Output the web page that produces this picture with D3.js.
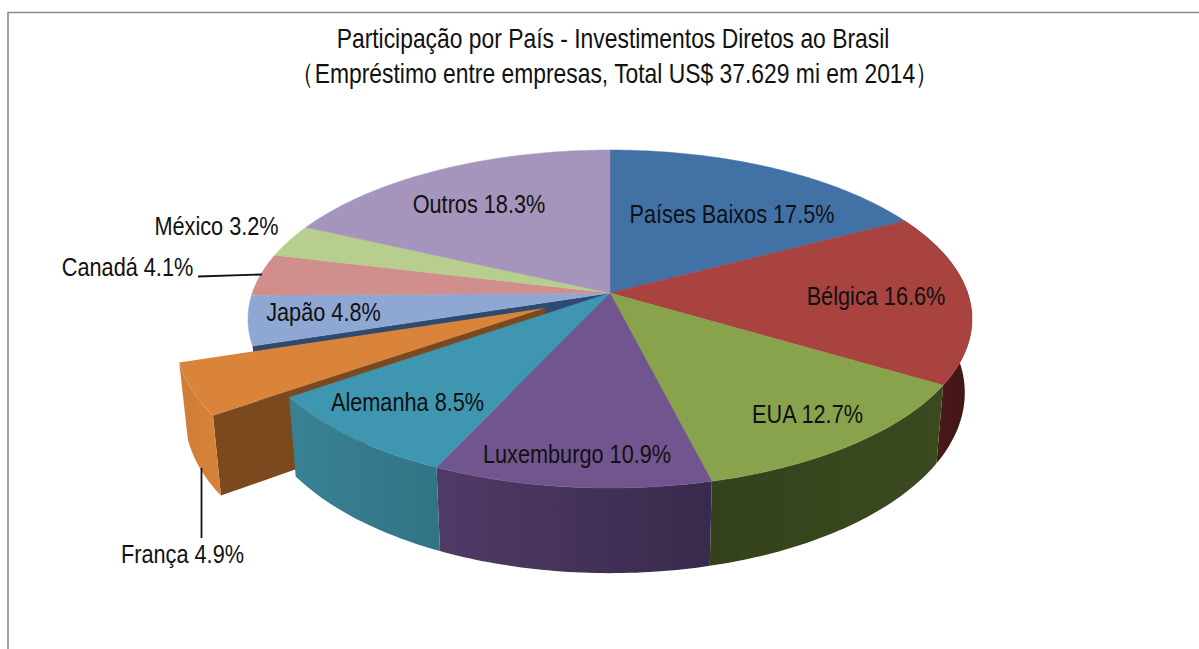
<!DOCTYPE html>
<html>
<head>
<meta charset="utf-8">
<style>
  html, body { margin: 0; padding: 0; background: #fff; overflow: hidden; }
  text { font-family: "Liberation Sans", Arial, sans-serif; fill: #111; }
</style>
</head>
<body>
<div id="svg-container"></div>
<script src="https://cdn.jsdelivr.net/npm/d3@7"></script>
<script>
// Data
const countries = ["Países Baixos", "Bélgica", "EUA", "Luxemburgo", "Alemanha",
                   "França", "Japão", "Canadá", "México", "Outros"];
const shares = [17.5, 16.6, 12.7, 10.9, 8.5, 4.9, 4.8, 4.1, 3.2, 18.3];
const titleLines = ["Participação por País - Investimentos Diretos ao Brasil",
                    "（Empréstimo entre empresas, Total US$ 37.629 mi em 2014）"];

// Colours of the top faces and of the outer walls (left, right)
const topColors = ["#4271a6", "#a8433f", "#89a34c", "#71558e", "#3e96b0",
                   "#d9843a", "#8fa7d3", "#d08e8c", "#b7ce8f", "#a595bc"];
const wallColors = [null, ["#501c1c", "#431515"], ["#34421c", "#3c4a20"],
                    ["#503b66", "#382a4c"], ["#3a8194", "#317486"],
                    ["#cf7d36", "#d5823a"], null, null, null, null];

// Constant dimensions
const width = 1199, height = 649;

// Tilted disc: homography of the unit circle on to the page
const disc = { cx: 610, cy: 293, rx: 357.7, ry: 165, tilt: 0.154, drop: 72, shrink: 0.98 };
const explode = 0.2;  // how far França is pulled out

// Label anchors (middle x, baseline y), same order as countries
const labelSpots = [[732, 223], [876, 305], [807.5, 423], [577, 463], [407.5, 411],
                    [182.5, 563], [323.5, 321], [127.5, 276], [216.5, 235], [479, 213]];
const titleSpots = [[613, 48], [615, 83]];

const svg = d3.select("#svg-container").append("svg")
    .attr("width", width)
    .attr("height", height)
    .style("display", "block");
const defs = svg.append("defs");

// Outer frame, only the top and left sides are in the picture
svg.append("path")
    .attr("d", `M8,${height}V12.5H${width}`)
    .attr("fill", "none")
    .attr("stroke", "#8c8c8c")
    .attr("stroke-width", 1.6);

// The original font is a narrow one, so squeeze the regular face
svg.append("g")
    .attr("text-anchor", "middle")
    .attr("font-size", 28)
    .selectAll("text")
    .data(titleLines)
    .join("text")
    .attr("transform", function(d, i) {
        return `translate(${titleSpots[i]}) scale(0.817,1)`;
    })
    .text(function(d) { return d; });

const slices = d3.pie().sort(null)(shares);
const franca = countries.indexOf("França");
const japao = countries.indexOf("Japão");

// Centre offset of a slice in disc units
function offset_of(d) {
    if (d.index != franca) return [0, 0];
    const mid = (d.startAngle + d.endAngle) / 2;
    return [explode * Math.sin(mid), explode * Math.cos(mid)];
}

// Project a disc point to the page, depth 0 is the top face and 1 the bottom
function project(X, Y, depth) {
    const w = 1 + disc.tilt * Y;
    const squeeze = 1 - (1 - disc.shrink) * depth;
    return [disc.cx + squeeze * disc.rx * X / w,
            disc.cy - disc.ry * Y / w + depth * disc.drop / w];
}

function rim_point(d, angle, depth) {
    const o = offset_of(d);
    return project(o[0] + Math.sin(angle), o[1] + Math.cos(angle), depth);
}

function apex_point(d, depth) {
    const o = offset_of(d);
    return project(o[0], o[1], depth);
}

function rim(d, a0, a1, depth) {
    const n = Math.max(2, Math.ceil(Math.abs(a1 - a0) * 60));
    return d3.range(n + 1).map(function(i) {
        return rim_point(d, a0 + (a1 - a0) * i / n, depth);
    });
}

const line = d3.line().curve(d3.curveLinearClosed);

function top_path(d) {
    return line([apex_point(d, 0)].concat(rim(d, d.startAngle, d.endAngle, 0)));
}

function wall_path(d, a0, a1) {
    return line(rim(d, a0, a1, 0).concat(rim(d, a1, a0, 1)));
}

function cut_path(d, angle) {
    return line([apex_point(d, 0), rim_point(d, angle, 0),
                 rim_point(d, angle, 1), apex_point(d, 1)]);
}

// Wall shading runs left to right across the slice
function wall_fill(d, a0, a1) {
    const colors = wallColors[d.index];
    const xs = rim(d, a0, a1, 0).map(function(p) { return p[0]; });
    const id = "wall-" + d.index;
    const grad = defs.append("linearGradient")
        .attr("id", id)
        .attr("gradientUnits", "userSpaceOnUse")
        .attr("x1", d3.min(xs)).attr("x2", d3.max(xs))
        .attr("y1", 0).attr("y2", 0);
    grad.append("stop").attr("offset", 0).attr("stop-color", colors[0]);
    grad.append("stop").attr("offset", 1).attr("stop-color", colors[1]);
    return `url(#${id})`;
}

const pie = svg.append("g");

// Face left open on Japão by the exploded slice
pie.append("path")
    .attr("d", cut_path(slices[japao], slices[japao].startAngle))
    .attr("fill", "#2f4a70");

// França goes under the rest of the disc
const fr = slices[franca];
pie.append("path")
    .attr("d", cut_path(fr, fr.startAngle))
    .attr("fill", "#7a4a1e");
pie.append("path")
    .attr("d", wall_path(fr, fr.startAngle, fr.endAngle))
    .attr("fill", wall_fill(fr, fr.startAngle, fr.endAngle));
pie.append("path")
    .attr("d", top_path(fr))
    .attr("fill", topColors[franca]);

// Outer walls of the front half, the back ones cannot be seen
pie.selectAll("path.wall")
    .data(slices.filter(function(d) { return wallColors[d.index] && d.index != franca; }))
    .join("path")
    .attr("class", "wall")
    .attr("fill", function(d) { return wall_fill(d, d.startAngle, d.endAngle); })
    .attr("d", function(d) { return wall_path(d, d.startAngle, d.endAngle); });

// Top faces
pie.selectAll("path.top")
    .data(slices.filter(function(d) { return d.index != franca; }))
    .join("path")
    .attr("class", "top")
    .attr("fill", function(d) { return topColors[d.index]; })
    .attr("stroke", function(d) { return topColors[d.index]; })
    .attr("stroke-width", 0.5)
    .attr("d", top_path);

// Leader lines for the two labels outside the disc
const leaders = [[[198, 276.5], [262, 274.5]], [[201.5, 468], [201.5, 538]]];
svg.append("g")
    .selectAll("path")
    .data(leaders)
    .join("path")
    .attr("d", d3.line())
    .attr("fill", "none")
    .attr("stroke", "#111")
    .attr("stroke-width", 1.8);

// Labels
svg.append("g")
    .attr("text-anchor", "middle")
    .attr("font-size", 26)
    .selectAll("text")
    .data(countries)
    .join("text")
    .attr("transform", function(d, i) {
        return `translate(${labelSpots[i]}) scale(0.835,1)`;
    })
    .text(function(d, i) { return d + " " + shares[i].toFixed(1) + "%"; });
</script>
</body>
</html>
